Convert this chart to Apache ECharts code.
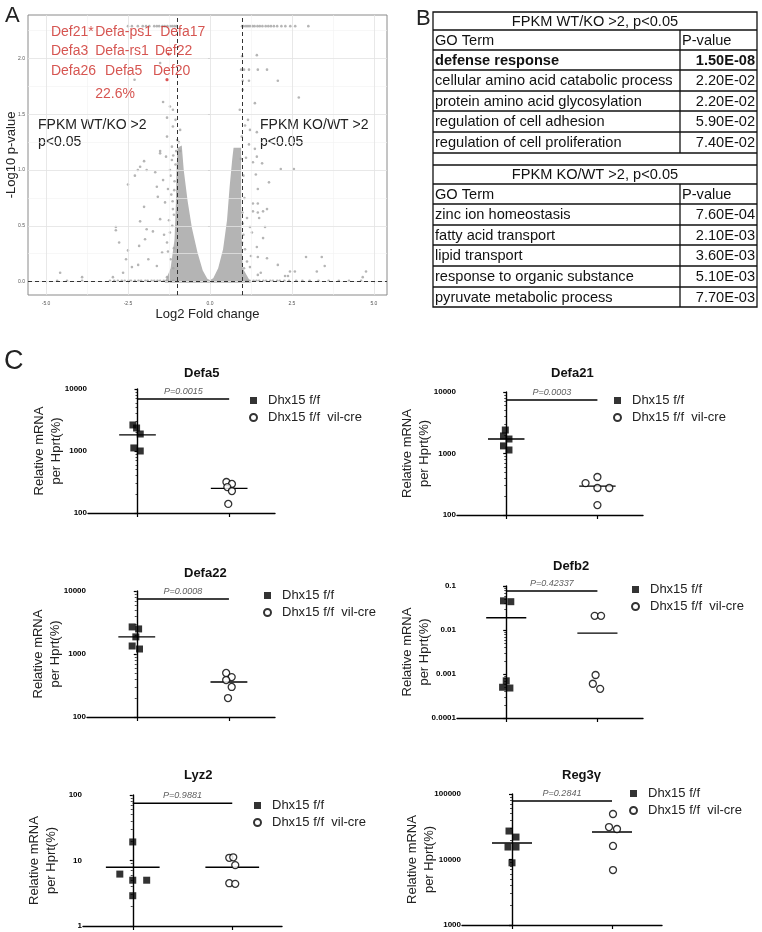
<!DOCTYPE html>
<html><head><meta charset="utf-8">
<script src="https://cdn.jsdelivr.net/npm/echarts@6/dist/echarts.min.js"></script>
<style>html,body{margin:0;padding:0;background:#fff}#c{width:762px;height:932px}</style>
</head><body><div id="c"></div>
<script>
// ---------------- DATA ----------------
// Panel A: volcano plot
const volcanoXTicks = [-5, -2.5, 0, 2.5, 5];
const volcanoYTicks = [0, 0.5, 1, 1.5, 2];
const volcanoXMinor = [-3.75, -1.25, 1.25, 3.75];
const volcanoYMinor = [0.25, 0.75, 1.25, 1.75, 2.25];
const volcanoThreshX = [-1, 1];
const volcanoThreshY = [0];
const volcanoGray = [
[-4.57,0.08],[-3.9,0.04],[-2.87,0.49],[-2.87,0.46],[-2.77,0.35],[-2.5,0.28],[-2.56,0.2],[-2.5,0.87],[-2.29,0.95],[-2.13,1.03],
[-2.01,1.08],[-2.2,1.0],[-1.93,1.0],[-1.67,0.98],[-1.62,0.85],[-1.52,1.15],[-1.34,1.12],[-2.01,0.67],[-2.13,0.54],[-1.93,0.47],
[-1.74,0.45],[-2.16,0.32],[-1.98,0.38],[-2.65,0.08],[-2.38,0.13],[-2.19,0.15],[-1.88,0.2],[-1.62,0.14],[-1.46,0.26],[-1.31,0.35],
[-1.52,0.56],[-1.37,0.71],[-1.28,0.83],[-1.43,0.91],[-1.22,1.0],[-1.16,1.09],[-1.13,0.65],[-1.59,0.76],[-1.22,0.44],[-1.31,0.04],
[-2.96,0.04],[-1.18,0.78],[-1.25,0.55],[-1.4,0.42],[-1.1,0.3],[-1.2,0.2],[-1.05,1.05],[-1.08,0.9],
[-2.3,1.81],[-1.52,1.96],[-1.43,1.61],[-1.22,1.57],[-1.13,1.54],[-1.31,1.47],[-1.13,1.39],[-0.91,1.36],[-1.31,1.3],[-1.0,1.27],
[-1.16,1.21],[-0.91,1.17],[-1.52,1.17],[-1.05,1.45],[-0.95,1.25],
[-1.12,0.12],[-1.28,0.27],[-1.15,0.5],[-1.1,0.6],[-1.14,0.72],[-1.09,0.82],[-1.2,0.95],[-1.12,1.13],[-1.03,1.17],
[1.43,2.03],[0.98,2.02],[0.95,1.9],[1.04,1.9],[1.19,1.9],[1.46,1.9],[1.74,1.9],[1.0,1.8],[1.19,1.8],[2.07,1.8],
[1.0,1.72],[2.71,1.65],[1.37,1.6],[0.91,1.54],[1.16,1.45],[1.07,1.4],[1.22,1.36],[1.43,1.34],[1.19,1.23],[1.37,1.19],
[1.1,1.11],[1.31,1.07],[1.43,1.12],[1.59,1.06],[1.4,0.96],[2.16,1.01],[2.56,1.01],[1.8,0.89],[1.46,0.83],[1.31,0.7],
[1.46,0.7],[1.74,0.65],[1.31,0.63],[1.46,0.62],[1.62,0.63],[1.13,0.57],[1.5,0.57],[1.0,0.52],[1.22,0.49],[1.68,0.49],
[1.28,0.44],[1.62,0.39],[1.43,0.31],[1.07,0.29],[1.46,0.22],[1.74,0.21],[1.25,0.23],[2.07,0.15],[2.93,0.22],[3.41,0.22],
[3.5,0.14],[2.44,0.09],[2.59,0.09],[2.29,0.05],[2.38,0.05],[3.26,0.09],[4.76,0.09],[4.66,0.04],[1.22,0.13],[1.13,0.18],
[1.46,0.06],[1.55,0.08],[0.97,1.3],[0.94,1.1],[1.02,0.95],[1.05,0.75],[0.98,0.35],[1.04,0.12],[0.99,0.62],[1.02,0.42]
];
const volcanoTopRowX = [-2.5,-2.38,-2.2,-2.05,-1.95,-1.85,-1.7,-1.62,-1.55,-1.45,-1.38,-1.3,-1.22,-1.15,-1.08,-1.02,
  0.98,1.03,1.1,1.16,1.22,1.3,1.36,1.45,1.52,1.6,1.7,1.78,1.86,1.95,2.05,2.18,2.3,2.45,2.6,3.0];
const volcanoTopRowY = 2.29;
const volcanoBaseX = [-4.66,-4.36,-3.9,-3.05,-2.92,-2.81,-2.69,-2.6,-2.48,-2.41,-2.29,-2.18,-2.1,-1.97,-1.9,-1.78,-1.7,-1.6,-1.52,-1.41,
  -1.33,-1.24,-1.12,1.12,1.21,1.33,1.42,1.5,1.63,1.71,1.84,1.92,2.05,2.13,2.27,2.41,2.63,2.82,3.04,3.31,3.62,3.93,4.24,4.61];
const volcanoBaseY = 0.008;
const volcanoRed = [[-1.25,2.04],[-1.31,1.81]];
// dense wedges of the volcano (outline vertices, x = log2FC, y = -log10 p)
const denseLeft = [[-1.38,-0.01],[-1.2,0.12],[-1.08,0.38],[-1.04,0.7],[-1.02,1.0],[-0.99,1.2],[-0.86,1.22],[-0.8,1.0],
  [-0.68,0.72],[-0.55,0.48],[-0.38,0.26],[-0.22,0.1],[-0.08,0.025],[0,0.015],[0,-0.01]];
const denseRight = [[0,-0.01],[0,0.015],[0.1,0.03],[0.25,0.12],[0.4,0.29],[0.52,0.55],[0.6,0.85],[0.68,1.1],[0.72,1.2],
  [0.95,1.2],[0.95,0.85],[0.96,0.45],[1.0,0.12],[1.25,-0.01]];
const volcanoLabels = [
  {t:'Def21*', x:-4.85, y:2.24}, {t:'Defa-ps1', x:-3.5, y:2.24}, {t:'Defa17', x:-1.52, y:2.24},
  {t:'Defa3', x:-4.85, y:2.07}, {t:'Defa-rs1', x:-3.5, y:2.07}, {t:'Def22', x:-1.68, y:2.07},
  {t:'Defa26', x:-4.85, y:1.89}, {t:'Defa5', x:-3.2, y:1.89}, {t:'Def20', x:-1.74, y:1.89},
  {t:'22.6%', x:-3.5, y:1.68}
];

// Panel B: GO tables
const goWTTitle = 'FPKM WT/KO >2, p<0.05';
const goKOTitle = 'FPKM KO/WT >2, p<0.05';
const goHeader = ['GO Term', 'P-value'];
const goWTTerms = ['defense response','cellular amino acid catabolic process','protein amino acid glycosylation','regulation of cell adhesion','regulation of cell proliferation'];
const goWTP = ['1.50E-08','2.20E-02','2.20E-02','5.90E-02','7.40E-02'];
const goKOTerms = ['zinc ion homeostasis','fatty acid transport','lipid transport','response to organic substance','pyruvate metabolic process'];
const goKOP = ['7.60E-04','2.10E-03','3.60E-03','5.10E-03','7.70E-03'];

// Panel C: qPCR dot plots (group 0 = Dhx15 f/f, group 1 = Dhx15 f/f vil-cre)
const seriesNames = ['Dhx15 f/f', 'Dhx15 f/f  vil-cre'];
const genes = ['Defa5','Defa21','Defa22','Defb2','Lyz2','Reg3γ'];
const pTexts = ['P=0.0015','P=0.0003','P=0.0008','P=0.42337','P=0.9881','P=0.2841'];
const wtValues = [
  [2630,2350,1880,1120,1000],
  [2410,1930,1720,1330,1140],
  [2690,2500,1870,1340,1200],
  [0.046,0.044,0.0007,0.0005,0.00048],
  [19.2,6.2,5.0,5.0,2.9],
  [27200,22000,15500,15500,8900]
];
const wtJitter = [
  [-0.05,-0.01,0.03,-0.04,0.03],
  [-0.01,-0.03,0.03,-0.03,0.03],
  [-0.05,0.02,-0.01,-0.05,0.03],
  [-0.03,0.05,0.0,-0.04,0.04],
  [0,-0.13,0,0.14,0],
  [-0.03,0.04,-0.04,0.04,0]
];
const koValues = [
  [316,294,262,226,140],
  [330,415,275,275,145],
  [500,430,386,300,200],
  [0.021,0.021,0.00095,0.0006,0.00046],
  [11,11.2,8.5,4.5,4.4],
  [49500,31300,29200,16100,6900]
];
const koJitter = [
  [-0.03,0.03,-0.02,0.03,-0.01],
  [-0.13,0,0,0.13,0],
  [-0.03,0.03,-0.03,0.03,-0.01],
  [-0.03,0.04,-0.02,-0.05,0.03],
  [-0.03,0.01,0.03,-0.03,0.03],
  [0.01,-0.03,0.05,0.01,0.01]
];
const wtMeans = [1820,1720,1870,0.019,7.9,17900];
const koMeans = [250,295,360,0.0085,7.9,26300];
const pBarY = [6900,7400,7460,0.077,75,78200];
const yMins = [100,100,100,0.0001,1,1000];
const yMaxs = [10000,10000,10000,0.1,100,100000];

// ---------------- LAYOUT ----------------
const FONT = 'Liberation Sans, Arial, Helvetica, sans-serif';
const dotLayout = [
  {left:88, top:389, width:187, height:124, xmin:-0.54, xmax:1.5, hw:0.2, tx:184, ty:367, lx:244, ly:389, ng:23},
  {left:457, top:392, width:186, height:123, xmin:-0.54, xmax:1.5, hw:0.2, tx:551, ty:367, lx:608, ly:389, ng:24},
  {left:87, top:591, width:188, height:126, xmin:-0.54, xmax:1.5, hw:0.2, tx:184, ty:567, lx:258, ly:584, ng:23},
  {left:457, top:586, width:186, height:132, xmin:-0.54, xmax:1.5, hw:0.22, tx:553, ty:560, lx:626, ly:578, ng:24},
  {left:83, top:795, width:199, height:131, xmin:-0.5, xmax:1.5, hw:0.27, tx:184, ty:769, lx:248, ly:794, ng:23},
  {left:462, top:794, width:200, height:131, xmin:-0.5, xmax:1.5, hw:0.2, tx:562, ty:769, lx:624, ly:782, ng:24}
];

const grids = [{left:28, top:15, width:359, height:280, show:true, borderColor:'#8a8a8a', borderWidth:1, backgroundColor:'#fff'}];
const xAxes = [{
  gridIndex:0, type:'value', min:-5.55, max:5.4,
  name:'Log2 Fold change', nameLocation:'middle', nameGap:13, nameMoveOverlap:false,
  nameTextStyle:{fontSize:13, color:'#222', fontFamily:FONT},
  axisLine:{show:false}, splitLine:{show:false},
  axisTick:{show:true, customValues:volcanoXTicks, length:2, lineStyle:{color:'#555', width:0.6}},
  axisLabel:{customValues:volcanoXTicks, fontSize:5, color:'#555', margin:6, formatter:v=>(+v).toFixed(1)}
}];
const yAxes = [{
  gridIndex:0, type:'value', min:-0.12, max:2.39,
  name:'-Log10 p-value', nameLocation:'middle', nameGap:10, nameRotate:90, nameMoveOverlap:false,
  nameTextStyle:{fontSize:13, color:'#222', fontFamily:FONT},
  axisLine:{show:false}, splitLine:{show:false},
  axisTick:{show:true, customValues:volcanoYTicks, length:2, lineStyle:{color:'#555', width:0.6}},
  axisLabel:{customValues:volcanoYTicks, fontSize:5, color:'#555', margin:3, formatter:v=>(+v).toFixed(1)}
}];
const series = [];
const legends = [];
const graphics = [];

// volcano grid lines
series.push({type:'scatter', xAxisIndex:0, yAxisIndex:0, data:[], silent:true, z:1,
  markLine:{silent:true, symbol:'none', label:{show:false}, animation:false,
    lineStyle:{color:'#f1f1f1', width:0.6, type:'solid'},
    data: volcanoXMinor.map(v=>({xAxis:v})).concat(volcanoYMinor.map(v=>({yAxis:v})))}});
series.push({type:'scatter', xAxisIndex:0, yAxisIndex:0, data:[], silent:true, z:1,
  markLine:{silent:true, symbol:'none', label:{show:false}, animation:false,
    lineStyle:{color:'#e2e2e2', width:0.8, type:'solid'},
    data: volcanoXTicks.map(v=>({xAxis:v})).concat(volcanoYTicks.map(v=>({yAxis:v})))}});
// dense wedges
const densePolys = [denseLeft, denseRight];
series.push({type:'custom', xAxisIndex:0, yAxisIndex:0, clip:true, silent:true, z:2,
  data: densePolys.map(p=>p[1]),
  renderItem:(params, api)=>({type:'polygon', shape:{points: densePolys[params.dataIndex].map(p=>api.coord(p))},
    style:{fill:'#b4b4b4'}})});
// points
series.push({type:'scatter', xAxisIndex:0, yAxisIndex:0, silent:true, z:3, symbolSize:2.6,
  itemStyle:{color:'#a3a3a3'},
  data: volcanoGray.concat(volcanoTopRowX.map(x=>[x, volcanoTopRowY])).concat(volcanoBaseX.map(x=>[x, volcanoBaseY]))});
series.push({type:'scatter', xAxisIndex:0, yAxisIndex:0, silent:true, z:4, symbolSize:3.2,
  itemStyle:{color:'#d22a2a'}, data: volcanoRed});
// labels in plot
series.push({type:'scatter', xAxisIndex:0, yAxisIndex:0, silent:true, z:5, symbolSize:0,
  data: volcanoLabels.map(l=>({value:[l.x,l.y], name:l.t})),
  label:{show:true, position:'right', distance:0, formatter:p=>p.name, color:'#cc2a25', fontSize:14, fontFamily:FONT}});
// thresholds
series.push({type:'scatter', xAxisIndex:0, yAxisIndex:0, data:[], silent:true, z:6,
  markLine:{silent:true, symbol:'none', label:{show:false}, animation:false,
    lineStyle:{color:'#333', width:1, type:[4,3]},
    data: volcanoThreshX.map(v=>({xAxis:v})).concat(volcanoThreshY.map(v=>({yAxis:v})))}});

// ---------- dot plots ----------
genes.forEach((g, i) => {
  const L = dotLayout[i];
  const gi = i + 1;
  grids.push({left:L.left, top:L.top, width:L.width, height:L.height});
  xAxes.push({gridIndex:gi, type:'value', min:L.xmin, max:L.xmax,
    axisLine:{show:true, lineStyle:{color:'#000', width:1.4}},
    axisTick:{show:true, customValues:[0,1], length:4, lineStyle:{color:'#000', width:1.2}},
    axisLabel:{show:false}, splitLine:{show:false}});
  yAxes.push({gridIndex:gi, type:'log', logBase:10, min:yMins[i], max:yMaxs[i],
    name:'Relative mRNA\nper Hprt(%)', nameLocation:'middle', nameGap:L.ng, nameRotate:90, nameMoveOverlap:false,
    nameTextStyle:{fontSize:13, lineHeight:17, color:'#222', fontFamily:FONT},
    axisLine:{show:true, lineStyle:{color:'#000', width:1.4}},
    axisTick:{show:true, length:3, lineStyle:{color:'#000', width:1.2}},
    minorTick:{show:true, splitNumber:9, length:2, lineStyle:{color:'#000', width:0.7}},
    axisLabel:{fontSize:8, fontWeight:'bold', color:'#000', margin:1, fontFamily:FONT,
      formatter:v=>String(+(+v).toPrecision(3))},
    splitLine:{show:false}});
  series.push({name:seriesNames[0], type:'scatter', xAxisIndex:gi, yAxisIndex:gi, symbol:'rect', symbolSize:7,
    itemStyle:{color:'#000'}, data: wtValues[i].map((v,j)=>[wtJitter[i][j], v]), z:4});
  series.push({name:seriesNames[1], type:'scatter', xAxisIndex:gi, yAxisIndex:gi, symbol:'circle', symbolSize:7,
    itemStyle:{color:'#fff', borderColor:'#000', borderWidth:1.3}, data: koValues[i].map((v,j)=>[1+koJitter[i][j], v]), z:4});
  [[0, wtMeans[i]], [1, koMeans[i]]].forEach(([c, m]) => {
    series.push({type:'line', xAxisIndex:gi, yAxisIndex:gi, symbol:'none', silent:true, z:3,
      lineStyle:{color:'#000', width:1.4}, data:[[c-L.hw, m],[c+L.hw, m]]});
  });
  series.push({type:'line', xAxisIndex:gi, yAxisIndex:gi, symbol:'none', silent:true, z:3,
    lineStyle:{color:'#000', width:1.4}, data:[[0, pBarY[i]],[1, pBarY[i]]]});
  series.push({type:'scatter', xAxisIndex:gi, yAxisIndex:gi, symbolSize:0, silent:true, z:5,
    data:[[0.5, pBarY[i]]],
    label:{show:true, position:'top', distance:3, formatter:pTexts[i], fontSize:9, fontStyle:'italic', color:'#333', fontFamily:FONT}});
  legends.push({data:seriesNames, orient:'vertical', left:L.lx, top:L.ly, itemWidth:7, itemHeight:7, itemGap:4,
    selectedMode:false, textStyle:{fontSize:13, color:'#222', fontFamily:FONT, padding:[0,0,0,6]}});
  graphics.push({type:'text', left:L.tx, top:L.ty, style:{text:g, fontSize:13, fontWeight:'bold', fill:'#111',
    font:'bold 13px '+FONT, textAlign:'center'}});
});

// panel letters
graphics.push({type:'text', left:5, top:5, style:{text:'A', font:'22px '+FONT, fill:'#222'}});
graphics.push({type:'text', left:416, top:8, style:{text:'B', font:'22px '+FONT, fill:'#222'}});
graphics.push({type:'text', left:4, top:348, style:{text:'C', font:'27px '+FONT, fill:'#222'}});
// volcano black annotations
graphics.push({type:'text', left:38, top:117, style:{text:'FPKM WT/KO >2\np<0.05', font:'14px '+FONT, fill:'#222', lineHeight:17}});
graphics.push({type:'text', left:260, top:117, style:{text:'FPKM KO/WT >2\np<0.05', font:'14px '+FONT, fill:'#222', lineHeight:17}});

// ---------- GO tables ----------
const TL = 433, TR = 757, TD = 680;
const rowLines = [12, 30, 50, 70, 91, 111, 132, 153, 165, 184, 204, 225, 245, 266, 287, 307];
const lineStyle = {stroke:'#111', lineWidth:1.3};
graphics.push({type:'rect', shape:{x:TL, y:rowLines[0], width:TR-TL, height:rowLines[rowLines.length-1]-rowLines[0]},
  style:{fill:'none', stroke:'#111', lineWidth:1.3}});
rowLines.slice(1, -1).forEach(y => graphics.push({type:'line', shape:{x1:TL, y1:y, x2:TR, y2:y}, style:lineStyle}));
graphics.push({type:'line', shape:{x1:TD, y1:rowLines[1], x2:TD, y2:rowLines[7]}, style:lineStyle});
graphics.push({type:'line', shape:{x1:TD, y1:rowLines[9], x2:TD, y2:rowLines[15]}, style:lineStyle});
function cellText(txt, row, col, bold, center){
  const yc = (rowLines[row] + rowLines[row+1]) / 2 + 0.5;
  let x, align;
  if (center) { x = (TL+TR)/2; align = 'center'; }
  else if (col === 0) { x = TL + 2; align = 'left'; }
  else if (col === 1) { x = TD + 2; align = 'left'; }
  else { x = TR - 2; align = 'right'; }
  graphics.push({type:'text', x:x, y:yc, style:{text:txt, font:(bold?'bold ':'')+'14.6px '+FONT, fill:'#111',
    textAlign:align, textVerticalAlign:'middle'}});
}
cellText(goWTTitle, 0, 0, false, true);
cellText(goHeader[0], 1, 0); cellText(goHeader[1], 1, 1);
goWTTerms.forEach((t, k) => { cellText(t, 2+k, 0, k===0); cellText(goWTP[k], 2+k, 2, k===0); });
cellText(goKOTitle, 8, 0, false, true);
cellText(goHeader[0], 9, 0); cellText(goHeader[1], 9, 1);
goKOTerms.forEach((t, k) => { cellText(t, 10+k, 0); cellText(goKOP[k], 10+k, 2); });

const chart = echarts.init(document.getElementById('c'));
chart.setOption({
  animation:false,
  backgroundColor:'#fff',
  textStyle:{fontFamily:FONT},
  grid:grids, xAxis:xAxes, yAxis:yAxes, series:series, legend:legends, graphic:graphics
});
</script></body></html>
